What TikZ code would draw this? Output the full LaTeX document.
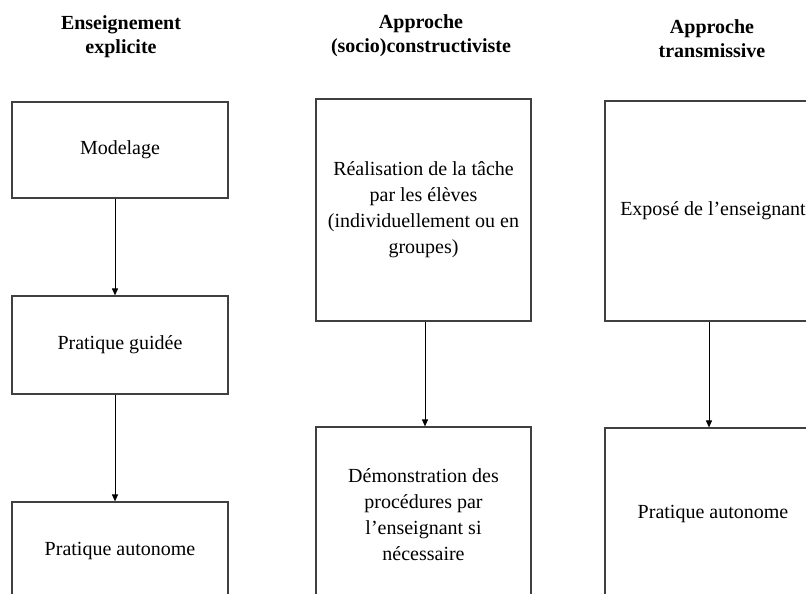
\documentclass[tikz,border=0pt]{standalone}
\usepackage{fontspec}
\setmainfont{Liberation Serif}
\usetikzlibrary{arrows.meta}
\tikzset{
  x=1pt, y=-1pt,
  box/.style={draw=black!75, line width=1.2pt, rectangle, inner sep=0pt, align=center,
    font=\fontsize{20}{26}\selectfont},
  title/.style={inner sep=0pt, align=center, font=\fontsize{20}{24}\selectfont\bfseries},
  conn/.style={draw=black, line width=1pt, -{Triangle[length=7pt,width=6pt]}}
}
\begin{document}
\begin{tikzpicture}
\useasboundingbox (0,0) rectangle (806,594);
\clip (0,0) rectangle (806,594);
% titles
\node[title] (t1) at (121,37) {Enseignement\\explicite};
\node[title] (t2) at (421,36) {Approche\\(socio)constructiviste};
\node[title] (t3) at (712,39) {Approche\\transmissive};
% left column
\node[box, minimum width=216pt, minimum height=96pt] (l1) at (120,150) {Modelage};
\node[box, minimum width=216pt, minimum height=98pt] (l2) at (120,345) {Pratique guidée};
\node[box, minimum width=216pt, minimum height=98pt] (l3) at (120,551) {Pratique autonome};
% middle column
\node[box, minimum width=215pt, minimum height=222pt] (m1) at (423.5,210)
  {Réalisation de la tâche\\par les élèves\\(individuellement ou en\\groupes)};
\node[box, minimum width=215pt, minimum height=176pt] (m2) at (423.5,515)
  {Démonstration des\\procédures par\\l’enseignant si\\nécessaire};
% right column
\node[box, minimum width=216pt, minimum height=220pt] (r1) at (713,211) {Exposé de l’enseignant};
\node[box, minimum width=216pt, minimum height=172pt] (r2) at (713,514) {Pratique autonome};
% connectors
\draw[conn] ([xshift=-5pt]l1.south) -- ([xshift=-5pt]l2.north);
\draw[conn] ([xshift=-5pt]l2.south) -- ([xshift=-5pt]l3.north);
\draw[conn] ([xshift=1.5pt]m1.south) -- ([xshift=1.5pt]m2.north);
\draw[conn] ([xshift=-4pt]r1.south) -- ([xshift=-4pt]r2.north);
\end{tikzpicture}
\end{document}
